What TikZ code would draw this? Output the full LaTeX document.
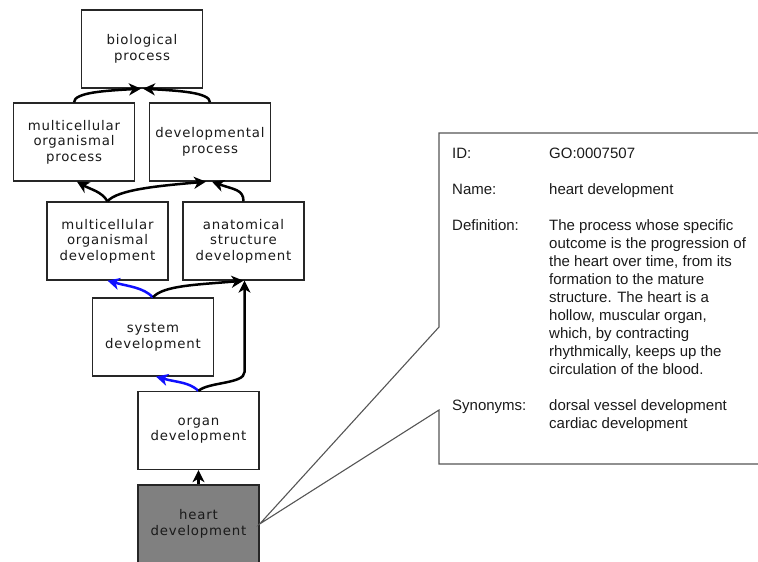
\documentclass[tikz,border=0pt]{standalone}
\usepackage{fontspec}
\setmainfont{Liberation Sans}
\newfontfamily\boxfontfam[LetterSpace=6]{DejaVu Sans}
\usetikzlibrary{arrows.meta}
\definecolor{txt}{HTML}{1A1A1A}
\definecolor{frame}{HTML}{555555}
\definecolor{heartgray}{HTML}{808080}
\definecolor{linkblue}{HTML}{1010FF}
\begin{document}
\begin{tikzpicture}[x=1pt,y=-1pt,
  term/.style={draw=black!85, line width=1.3pt, fill=white, minimum width=121pt,
    minimum height=78pt, inner sep=0pt, align=center,
    font=\boxfontfam\fontsize{13.3}{15.5}\selectfont, text=txt},
  isa/.style={line width=2.5pt, draw=black, -{Stealth[length=12pt,width=12pt,inset=3.5pt]}},
  partof/.style={isa, draw=linkblue},
  callout/.style={draw=frame, line width=1.1pt},
  info/.style={anchor=base west, inner sep=0pt, text=txt, font=\fontsize{15}{18}\selectfont}]
\useasboundingbox (0,0) rectangle (758,562);

% terms
\node[term] (bp)  at (142,49)    {biological\\process};
\node[term] (mop) at (74,142)    {multicellular\\organismal\\process};
\node[term] (dp)  at (210,142)   {developmental\\process};
\node[term] (mod) at (107.5,241) {multicellular\\organismal\\development};
\node[term] (asd) at (243.5,241) {anatomical\\structure\\development};
\node[term] (sd)  at (153,337)   {system\\development};
\node[term] (od)  at (198.5,430.5) {organ\\development};
\node[term, fill=heartgray] (hd) at (198.5,524) {heart\\development};

% relations
\draw[isa] (mop.north) .. controls +(0,-10) and +(-35,2) .. ([xshift=-1pt]bp.south);
\draw[isa] (dp.north) .. controls +(0,-10) and +(35,2) .. ([xshift=1pt]bp.south);
\draw[isa] (mod.north) .. controls +(-6,-10) and +(14,8) .. ([xshift=3pt]mop.south);
\draw[isa] (mod.north) .. controls +(10,-12) and +(-45,4) .. ([xshift=-4pt]dp.south);
\draw[isa] (asd.north) .. controls +(0,-12) and +(22,8) .. ([xshift=2pt]dp.south);
\draw[partof] (sd.north) .. controls +(-10,-10) and +(22,6) .. (mod.south);
\draw[isa] (sd.north) .. controls +(10,-12) and +(-45,4) .. (asd.south);
\draw[partof] (od.north) .. controls +(-10,-9) and +(22,6) .. ([xshift=3pt]sd.south);
\coordinate (bend) at (244.5,372);
\draw[isa] (od.north) .. controls +(10,-9) and +(0,12) .. (bend) -- ([xshift=1pt]asd.south);
\draw[isa] (hd.north) -- (od.south);

% callout
\coordinate (tr) at (759,133);
\coordinate (tl) at (439,133);
\coordinate (c1) at (439,327);
\coordinate (c2) at (439,410);
\coordinate (bl) at (439,464);
\coordinate (br) at (759,464);
\draw[callout, line join=miter] (tr) -- (tl) -- (c1) -- (hd.east) -- (c2) -- (bl) -- (br);

% details
\node[info] (lid) at (452,158) {ID:};
\node[info] (vid) at (549,158) {GO:0007507};
\node[info] (lname) at (452,194) {Name:};
\node[info] (vname) at (549,194) {heart development};
\node[info] (ldef) at (452,230) {Definition:};
\foreach \t [count=\i from 0] in {The process whose specific,
  outcome is the progression of,
  {the heart over time, from its},
  formation to the mature,
  structure. The heart is a,
  {hollow, muscular organ,},
  {which, by contracting},
  {rhythmically, keeps up the},
  circulation of the blood.}
  \node[info] (def\i) at (549,230+18*\i) {\t};
\node[info] (lsyn) at (452,410) {Synonyms:};
\node[info] (syn1) at (549,410) {dorsal vessel development};
\node[info] (syn2) at (549,428) {cardiac development};
\end{tikzpicture}
\end{document}
